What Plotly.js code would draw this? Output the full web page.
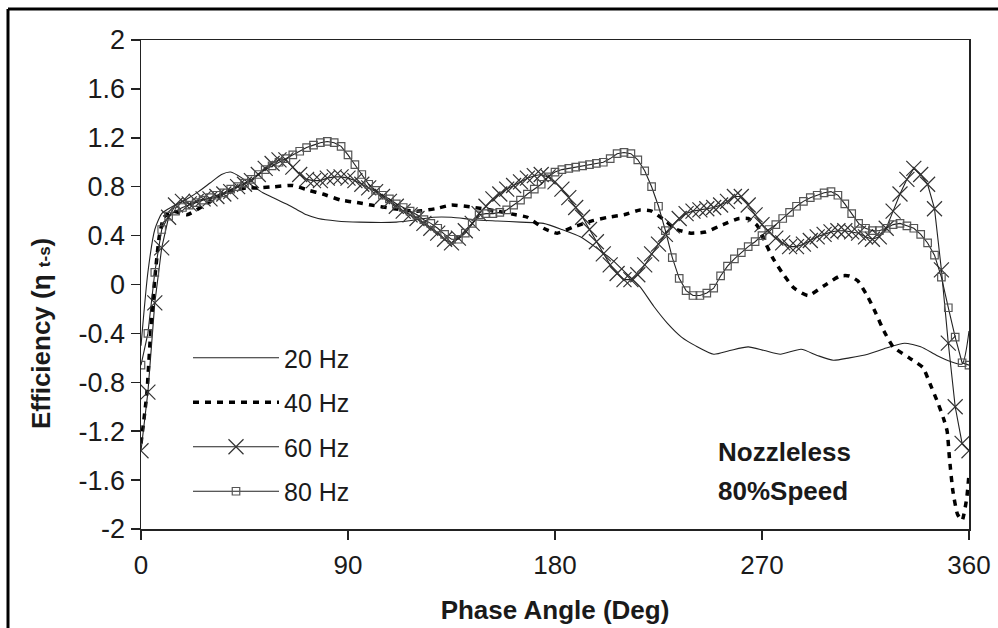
<!DOCTYPE html>
<html>
<head>
<meta charset="utf-8">
<script src="https://cdn.plot.ly/plotly-3.0.1.min.js"></script>
<style>
  html, body { margin: 0; padding: 0; background: #ffffff; }
  #chart { width: 998px; height: 628px; }
</style>
</head>
<body>
<div id="chart"></div>
<script>
// ---- Data ----
const seriesNames = ["20 Hz", "40 Hz", "60 Hz", "80 Hz"];

const phase20 = [0, 3, 6, 9, 12, 16, 20, 25, 30, 35, 39, 44, 49, 53, 57.5, 63, 68, 72, 77, 85, 95, 111, 120, 127, 135, 145, 155, 165, 175, 183, 191, 198, 205, 211, 217, 223, 229, 235, 241, 249, 256, 264, 271, 278, 287, 294, 301, 308, 316, 324, 332, 339, 346, 352, 357, 360];
const eff20 = [-0.5, 0.1, 0.45, 0.58, 0.62, 0.66, 0.7, 0.76, 0.83, 0.9, 0.92, 0.87, 0.8, 0.75, 0.71, 0.66, 0.61, 0.57, 0.54, 0.52, 0.51, 0.51, 0.53, 0.55, 0.55, 0.53, 0.52, 0.51, 0.5, 0.45, 0.39, 0.3, 0.2, 0.09, -0.02, -0.18, -0.32, -0.43, -0.5, -0.57, -0.54, -0.51, -0.54, -0.57, -0.53, -0.58, -0.62, -0.6, -0.57, -0.52, -0.48, -0.51, -0.58, -0.63, -0.65, -0.38];

const phase40 = [0, 2.5, 4, 6, 8, 10, 14, 20, 25, 30, 35, 40, 46, 51, 58, 66, 73, 79, 87, 94, 100, 110, 120, 128, 135, 145, 155, 163, 168, 175, 181, 188, 196, 203, 210, 217, 222, 228, 233, 239, 245.5, 253, 260, 264, 268, 271, 274.6, 279, 284, 290, 297, 304, 308, 311.6, 316, 319.6, 323, 327, 334, 340, 343, 346.5, 349, 350.5, 351.5, 353, 355, 357, 359, 360];
const eff40 = [-1.3, -0.9, -0.45, 0.05, 0.4, 0.55, 0.6, 0.57, 0.62, 0.68, 0.73, 0.77, 0.79, 0.79, 0.8, 0.81, 0.77, 0.74, 0.69, 0.67, 0.65, 0.62, 0.6, 0.62, 0.65, 0.63, 0.6, 0.57, 0.55, 0.46, 0.42, 0.47, 0.52, 0.55, 0.57, 0.61, 0.6, 0.52, 0.45, 0.42, 0.43, 0.49, 0.54, 0.54, 0.48, 0.36, 0.22, 0.09, -0.03, -0.09, -0.01, 0.07, 0.07, 0.03, -0.1, -0.24, -0.38, -0.51, -0.6, -0.68, -0.81, -0.97, -1.1, -1.2, -1.42, -1.69, -1.88, -1.93, -1.75, -1.55];

const phase3 = [0, 3, 6, 9, 12, 15, 18, 21, 24, 27, 30, 33, 36, 39, 42, 45, 48, 51, 54, 57, 60, 63, 66, 69, 72, 75, 78, 81, 84, 87, 90, 93, 96, 99, 102, 105, 108, 111, 114, 117, 120, 123, 126, 129, 132, 135, 138, 141, 144, 147, 150, 153, 156, 159, 162, 165, 168, 171, 174, 177, 180, 183, 186, 189, 192, 195, 198, 201, 204, 207, 210, 213, 216, 219, 222, 225, 228, 231, 234, 237, 240, 243, 246, 249, 252, 255, 258, 261, 264, 267, 270, 273, 276, 279, 282, 285, 288, 291, 294, 297, 300, 303, 306, 309, 312, 315, 318, 321, 324, 327, 330, 333, 336, 339, 342, 345, 348, 351, 354, 357, 360];

const eff60 = [-1.36, -0.88, -0.15, 0.30, 0.55, 0.65, 0.68, 0.66, 0.68, 0.70, 0.70, 0.72, 0.74, 0.76, 0.80, 0.82, 0.85, 0.90, 0.95, 0.99, 1.02, 1.02, 0.96, 0.90, 0.86, 0.85, 0.85, 0.87, 0.88, 0.88, 0.87, 0.85, 0.82, 0.79, 0.76, 0.72, 0.68, 0.64, 0.60, 0.57, 0.54, 0.50, 0.46, 0.42, 0.37, 0.34, 0.38, 0.44, 0.50, 0.58, 0.64, 0.70, 0.74, 0.78, 0.81, 0.84, 0.87, 0.89, 0.90, 0.88, 0.84, 0.78, 0.71, 0.63, 0.55, 0.45, 0.35, 0.25, 0.16, 0.09, 0.04, 0.04, 0.08, 0.16, 0.25, 0.33, 0.41, 0.48, 0.54, 0.58, 0.60, 0.61, 0.62, 0.63, 0.65, 0.68, 0.72, 0.72, 0.65, 0.57, 0.49, 0.43, 0.38, 0.34, 0.31, 0.31, 0.33, 0.36, 0.39, 0.41, 0.43, 0.44, 0.44, 0.43, 0.42, 0.39, 0.37, 0.39, 0.46, 0.60, 0.74, 0.86, 0.95, 0.90, 0.82, 0.62, 0.12, -0.48, -1.00, -1.30, -1.36];

const eff80 = [-0.66, -0.40, 0.10, 0.45, 0.56, 0.60, 0.63, 0.65, 0.67, 0.69, 0.71, 0.73, 0.75, 0.78, 0.80, 0.83, 0.86, 0.90, 0.94, 0.97, 1.00, 1.03, 1.06, 1.09, 1.12, 1.14, 1.16, 1.17, 1.16, 1.13, 1.06, 0.98, 0.90, 0.82, 0.77, 0.73, 0.70, 0.66, 0.63, 0.60, 0.57, 0.53, 0.50, 0.46, 0.41, 0.37, 0.37, 0.42, 0.50, 0.57, 0.58, 0.58, 0.59, 0.61, 0.65, 0.69, 0.74, 0.78, 0.82, 0.88, 0.92, 0.94, 0.95, 0.96, 0.97, 0.98, 0.99, 1.00, 1.03, 1.07, 1.08, 1.07, 1.02, 0.93, 0.80, 0.64, 0.44, 0.22, 0.05, -0.05, -0.09, -0.09, -0.07, -0.03, 0.07, 0.15, 0.21, 0.26, 0.31, 0.35, 0.40, 0.45, 0.49, 0.54, 0.59, 0.64, 0.68, 0.71, 0.73, 0.75, 0.76, 0.73, 0.66, 0.58, 0.50, 0.46, 0.44, 0.44, 0.46, 0.49, 0.50, 0.48, 0.46, 0.41, 0.34, 0.24, 0.06, -0.19, -0.43, -0.64, -0.66];

const xTicks = [0, 90, 180, 270, 360];
const yTicks = [2, 1.6, 1.2, 0.8, 0.4, 0, -0.4, -0.8, -1.2, -1.6, -2];
const yTickText = ["2", "1.6", "1.2", "0.8", "0.4", "0", "-0.4", "-0.8", "-1.2", "-1.6", "-2"];
const xTitle = "Phase Angle (Deg)";
const yTitle = 'Efficiency (η <span style="font-size:17px">t-s</span>)';
const noteLines = ["Nozzleless", "80%Speed"];

// ---- Chart ----
const FONT = 'Arial, "Liberation Sans", sans-serif';
const INK = '#1a1a1a';

const traces = [
  { x: phase20, y: eff20, name: seriesNames[0], legendgroup: 'a', mode: 'lines',
    line: { color: '#222', width: 1.1, shape: 'spline', smoothing: 0.6 } },
  { x: phase40, y: eff40, name: seriesNames[1], legendgroup: 'b', mode: 'lines',
    line: { color: '#000', width: 3.5, dash: '6px,6px', shape: 'spline', smoothing: 0.5 } },
  { x: phase3, y: eff60, name: seriesNames[2], legendgroup: 'c', mode: 'lines+markers',
    line: { color: '#222', width: 1.1 },
    marker: { symbol: 'x-thin-open', size: 15, color: '#333', line: { color: '#333', width: 1.2 } } },
  { x: phase3, y: eff80, name: seriesNames[3], legendgroup: 'd', mode: 'lines+markers',
    line: { color: '#222', width: 1.1 },
    marker: { symbol: 'square-open', size: 7.5, color: '#555', line: { color: '#555', width: 1.2 } } }
];

const px = v => (v - 141) / 828;     // pixel -> paper x
const py = v => (529 - v) / 489;     // pixel -> paper y

const layout = {
  width: 998, height: 628,
  margin: { l: 141, r: 29, t: 40, b: 99, pad: 0 },
  paper_bgcolor: '#ffffff', plot_bgcolor: '#ffffff',
  font: { family: FONT, color: INK },
  showlegend: true,
  legend: {
    x: px(188), y: py(335), xanchor: 'left', yanchor: 'top',
    bgcolor: 'rgba(0,0,0,0)', borderwidth: 0,
    font: { family: FONT, size: 25, color: INK },
    tracegroupgap: 9, itemwidth: 86
  },
  xaxis: {
    range: [0, 360], tickvals: xTicks, ticktext: xTicks.map(String),
    showgrid: false, zeroline: false,
    showline: true, linecolor: '#222', linewidth: 1.5, mirror: true,
    ticks: 'outside', ticklen: 9, tickcolor: '#222', tickwidth: 1.5,
    ticklabelstandoff: 3,
    tickfont: { family: FONT, size: 26, color: INK },
    title: { text: xTitle, font: { family: FONT, size: 26, color: INK, weight: 'bold' }, standoff: 22 }
  },
  yaxis: {
    range: [-2, 2], tickvals: yTicks, ticktext: yTickText,
    showgrid: false, zeroline: false,
    showline: true, linecolor: '#222', linewidth: 1.5, mirror: true,
    ticks: 'outside', ticklen: 9, tickcolor: '#222', tickwidth: 1.5,
    tickfont: { family: FONT, size: 27, color: INK }
  },
  annotations: [
    { xref: 'paper', yref: 'paper', x: px(41), y: py(334), xanchor: 'center', yanchor: 'middle',
      textangle: -90, text: '<b>' + yTitle + '</b>', showarrow: false, font: { family: FONT, size: 26, color: INK } },
    { xref: 'paper', yref: 'paper', x: px(716), y: py(452), xanchor: 'left', yanchor: 'middle',
      text: '<b>' + noteLines[0] + '</b>', showarrow: false, font: { family: FONT, size: 26, color: INK } },
    { xref: 'paper', yref: 'paper', x: px(716), y: py(491), xanchor: 'left', yanchor: 'middle',
      text: '<b>' + noteLines[1] + '</b>', showarrow: false, font: { family: FONT, size: 26, color: INK } }
  ],
  shapes: [
    { type: 'line', xref: 'paper', yref: 'paper', x0: px(8), x1: px(1010), y0: py(9), y1: py(9), line: { color: '#000', width: 3 } },
    { type: 'line', xref: 'paper', yref: 'paper', x0: px(8), x1: px(8), y0: py(9), y1: py(640), line: { color: '#000', width: 3 } }
  ]
};

Plotly.newPlot('chart', traces, layout, { staticPlot: true, displayModeBar: false });
</script>
</body>
</html>
